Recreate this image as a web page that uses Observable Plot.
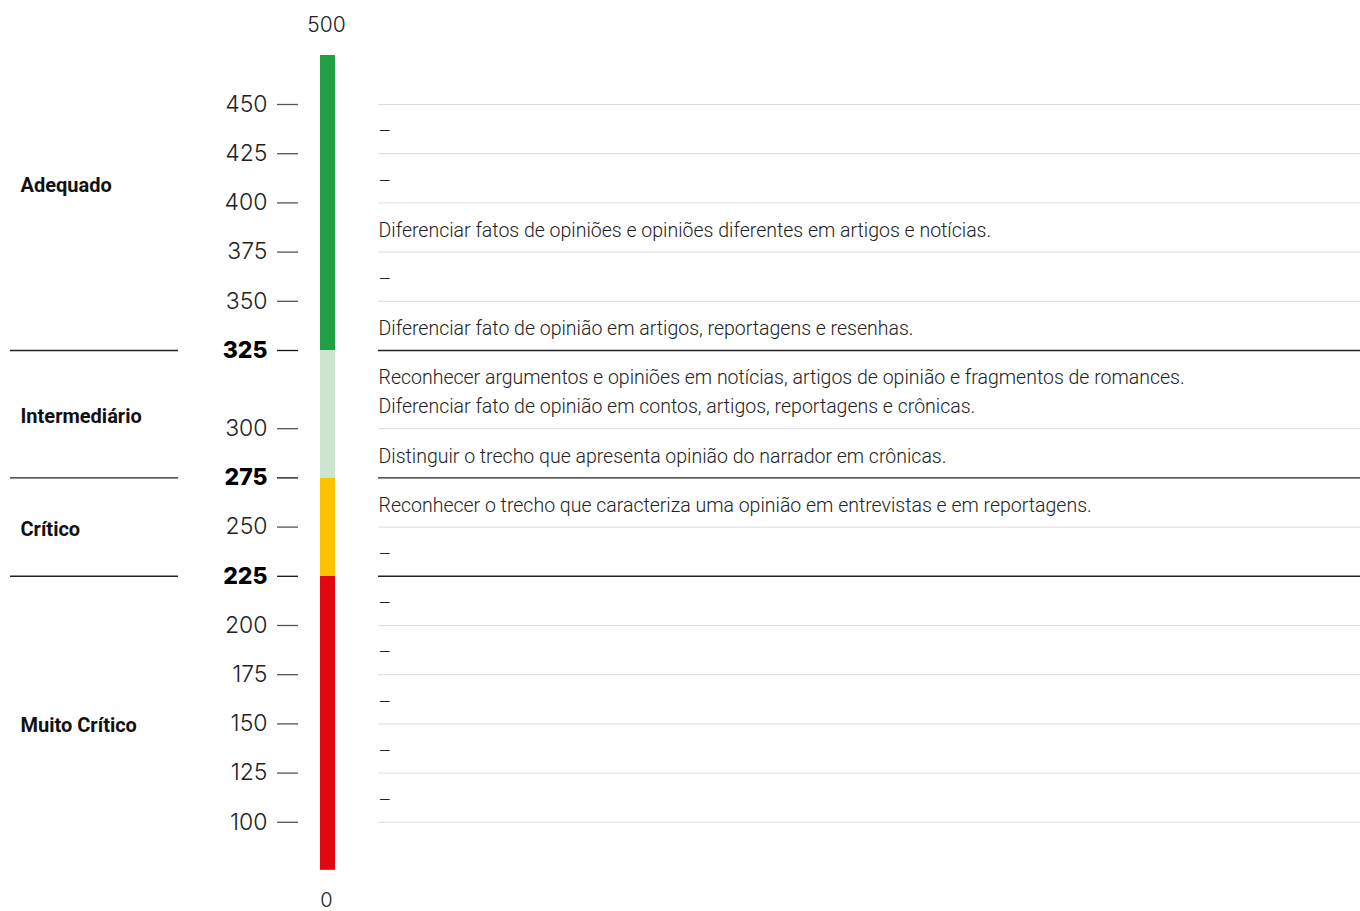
<!DOCTYPE html>
<html><head><meta charset="utf-8">
<script src="https://cdn.jsdelivr.net/npm/d3@7"></script>
<script src="https://cdn.jsdelivr.net/npm/@observablehq/plot@0.6"></script>
<style>
body{margin:0;background:#fff}
</style>
</head><body><div id="chart"></div>
<script>
// ---- data ----
const levelNames = ["Muito Crítico", "Crítico", "Intermediário", "Adequado"];
const levelLow = [0, 225, 275, 325];
const levelHigh = [225, 275, 325, 500];
const levelColors = ["#e30613", "#fcc200", "#cce5cf", "#1fa045"];
const levelLabelAt = [149, 248.5, 304, 409];
const tickValues = [100, 125, 150, 175, 200, 225, 250, 275, 300, 325, 350, 375, 400, 425, 450];
const boldTicks = [225, 275, 325];
const rowLow = [100, 125, 150, 175, 200, 225, 250, 275, 300, 325, 350, 375, 400, 425];
const rowTexts = [
  "–", "–", "–", "–", "–", "–",
  "Reconhecer o trecho que caracteriza uma opinião em entrevistas e em reportagens.",
  "Distinguir o trecho que apresenta opinião do narrador em crônicas.",
  "Reconhecer argumentos e opiniões em notícias, artigos de opinião e fragmentos de romances.\nDiferenciar fato de opinião em contos, artigos, reportagens e crônicas.",
  "Diferenciar fato de opinião em artigos, reportagens e resenhas.",
  "–",
  "Diferenciar fatos de opiniões e opiniões diferentes em artigos e notícias.",
  "–", "–"
];
const scaleMin = 0, scaleMax = 500;

// ---- layout ----
const W = 1360, H = 911;
const barTop = 55, rowH = 49.2, lineH = 29, endTop = 49, endBottom = 48;
const xLevel = 20, xLevelRule = [10, 178], xTickLabel = 267, xTick = [277, 298];
const xBar = [320, 335], xText = 378, xRight = 1360;

// piecewise y scale built from row heights
const rows = rowLow.map((lo, i) => ({lo, hi: lo + 25, mid: lo + 12.5, text: rowTexts[i], lines: rowTexts[i].split("\n").length}));
const yDomain = [scaleMax];
const yRange = [barTop];
let cur = barTop + endTop;
yDomain.push(450); yRange.push(cur);
for (let i = rows.length - 1; i >= 0; i--) {
  cur += rowH + (rows[i].lines - 1) * lineH;
  yDomain.push(rows[i].lo); yRange.push(cur);
}
cur += endBottom;
yDomain.push(scaleMin); yRange.push(cur);
yDomain.reverse(); yRange.reverse();

const levels = levelNames.map((name, i) => ({name, lo: levelLow[i], hi: levelHigh[i], color: levelColors[i], at: levelLabelAt[i]}));
const ticks = tickValues.map(v => ({v, bold: boldTicks.includes(v)}));
const boundaries = tickValues.map(v => ({v, strong: boldTicks.includes(v)}));

const numFont = "Inter, Lato, sans-serif";
const txtFont = "Roboto, sans-serif";

const chart = Plot.plot({
  width: W, height: H,
  marginTop: 0, marginRight: 0, marginBottom: 0, marginLeft: 0,
  x: {type: "linear", domain: [0, W], range: [0, W], axis: null},
  y: {type: "linear", domain: yDomain, range: yRange, axis: null},
  style: {fontFamily: txtFont, background: "#fff"},
  marks: [
    Plot.ruleY(boundaries.filter(d => !d.strong), {y: "v", x1: xText, x2: xRight, stroke: "#dcdcdc", strokeWidth: 1}),
    Plot.ruleY(boundaries.filter(d => d.strong), {y: "v", x1: xText, x2: xRight, stroke: "#222", strokeWidth: 1.4}),
    Plot.ruleY(boldTicks, {y: d => d, x1: xLevelRule[0], x2: xLevelRule[1], stroke: "#222", strokeWidth: 1.4}),
    Plot.rect(levels, {y1: "lo", y2: "hi", x1: xBar[0], x2: xBar[1], fill: "color"}),
    Plot.ruleY(ticks, {y: "v", x1: xTick[0], x2: xTick[1], stroke: d => d.bold ? "#111" : "#555", strokeWidth: 1.3}),
    Plot.text(ticks.filter(d => !d.bold), {y: "v", x: xTickLabel, text: d => String(d.v), textAnchor: "end", fontSize: 23, fontWeight: 300, fill: "#222", fontFamily: numFont}),
    Plot.text(ticks.filter(d => d.bold), {y: "v", x: xTickLabel, text: d => String(d.v), textAnchor: "end", fontSize: 23, fontWeight: 800, fill: "#000", fontFamily: numFont}),
    Plot.text([scaleMax], {y: d => d, x: (xBar[0] + xBar[1]) / 2, text: d => String(d), dx: -1.5, dy: -30, fontSize: 21, fontWeight: 300, fill: "#222", fontFamily: numFont}),
    Plot.text([scaleMin], {y: d => d, x: (xBar[0] + xBar[1]) / 2, text: d => String(d), dx: -1.5, dy: 30, fontSize: 20, fontWeight: 300, fill: "#222", fontFamily: numFont}),
    Plot.text(levels, {y: "at", x: xLevel, text: "name", textAnchor: "start", fontSize: 20, fontWeight: 700, fill: "#111"}),
    Plot.text(rows, {y: "mid", x: xText, text: "text", textAnchor: "start", fontSize: 19.5, fontWeight: 300, fill: "#222", lineHeight: lineH / 19.5})
  ]
});
document.getElementById("chart").appendChild(chart);
</script>
</body></html>
